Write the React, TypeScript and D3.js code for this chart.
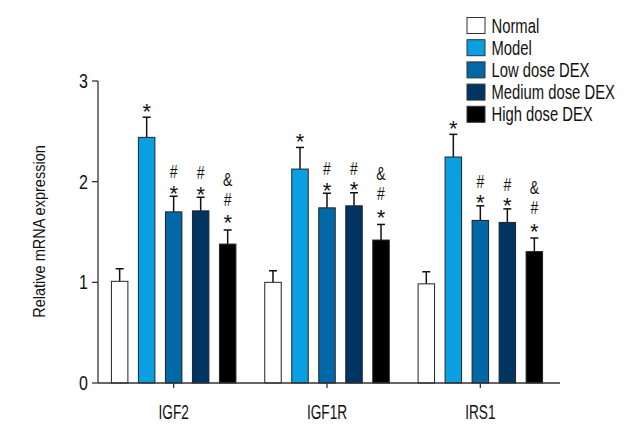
import * as d3 from 'd3';

const genes = ['IGF2', 'IGF1R', 'IRS1'];
const groups = ['Normal', 'Model', 'Low dose DEX', 'Medium dose DEX', 'High dose DEX'];
const groupColors = ['#ffffff', '#0a9fe0', '#0068a6', '#003462', '#000000'];

// mean values per gene, in group order
const meanValues = [
  [1.01, 2.44, 1.7, 1.71, 1.38],
  [1.0, 2.125, 1.74, 1.76, 1.42],
  [0.985, 2.245, 1.615, 1.595, 1.305],
];
// SD (upper error only)
const sdValues = [
  [0.125, 0.2, 0.155, 0.135, 0.14],
  [0.115, 0.215, 0.145, 0.13, 0.155],
  [0.12, 0.225, 0.145, 0.135, 0.135],
];
// significance marks per group, drawn bottom to top
const marks = [[], ['*'], ['*', '#'], ['*', '#'], ['*', '#', '&']];
const yTicks = [0, 1, 2, 3];

const font = "'Liberation Sans', Arial, sans-serif";

// distance of each mark's bottom above the error cap, depending on how many marks are stacked
const markGaps: Record<number, number[]> = {
  1: [8],
  2: [5, 18],
  3: [9, 24, 44],
};

function NarrowText({ x, y, size, sx, anchor = 'start', rotate = 0, children }: any) {
  return (
    <g transform={`translate(${x},${y}) rotate(${rotate}) scale(${sx},1)`}>
      <text x={0} y={0} textAnchor={anchor} fontFamily={font} fontSize={size} fill="#111">{children}</text>
    </g>
  );
}

export default function App() {
  const width = 640;
  const height = 440;
  const x0 = 98;
  const xEnd = 560;

  const y = d3.scaleLinear().domain([0, 3]).range([383, 81]);
  const xGene = d3.scaleBand().domain(genes).range([97, 557]).padding(0);
  const groupSpan = 124.5;
  const xGroup = d3.scaleBand().domain(groups).range([0, groupSpan]).paddingInner(0.39).paddingOuter(0);
  const color = d3.scaleOrdinal<string, string>().domain(groups).range(groupColors);

  const markText = (s: string, cx: number, bottom: number, key: number) => {
    if (s === '*') {
      // asterisk glyph sits high; push baseline down so the glyph bottom lands at `bottom`
      return (
        <NarrowText key={key} x={cx} y={bottom + 9.5} size={22} sx={1} anchor="middle">*</NarrowText>
      );
    }
    return (
      <NarrowText key={key} x={cx} y={bottom} size={17.5} sx={0.8} anchor="middle">{s}</NarrowText>
    );
  };

  return (
    <svg width={width} height={height} style={{ position: 'absolute', left: 0, top: 0, background: '#fff' }}>
      {genes.map((gene, gi) => {
        const gx = (xGene(gene) ?? 0) + xGene.bandwidth() / 2 - groupSpan / 2;
        return (
          <g key={gene} transform={`translate(${gx},0)`}>
            {groups.map((grp, k) => {
              const bx = xGroup(grp) ?? 0;
              const bw = xGroup.bandwidth();
              const m = meanValues[gi][k];
              const top = y(m + sdValues[gi][k]);
              const cx = bx + bw / 2;
              const gaps = markGaps[marks[k].length] || [];
              return (
                <g key={grp}>
                  <line x1={cx} x2={cx} y1={y(m)} y2={top} stroke="#111" strokeWidth={1.5} />
                  <line x1={cx - 4} x2={cx + 4} y1={top} y2={top} stroke="#111" strokeWidth={1.5} />
                  <rect x={bx} y={y(m)} width={bw} height={y(0) - y(m)} fill={color(grp)} stroke="#222" strokeWidth={1} />
                  {marks[k].map((s, j) => markText(s, cx, top - gaps[j], j))}
                </g>
              );
            })}
          </g>
        );
      })}

      {/* axes */}
      <line x1={x0} x2={x0} y1={y(3)} y2={y(0)} stroke="#333" strokeWidth={1.3} />
      <line x1={x0} x2={xEnd} y1={y(0)} y2={y(0)} stroke="#333" strokeWidth={1.3} />
      {yTicks.map(t => (
        <g key={t}>
          <line x1={x0 - 6} x2={x0} y1={y(t)} y2={y(t)} stroke="#333" strokeWidth={1.3} />
          <NarrowText x={x0 - 10} y={y(t) + 7} size={20} sx={0.8} anchor="end">{t}</NarrowText>
        </g>
      ))}
      {genes.map(g => {
        const cx = (xGene(g) ?? 0) + xGene.bandwidth() / 2;
        return (
          <g key={g}>
            <line x1={cx} x2={cx} y1={y(0)} y2={y(0) + 5} stroke="#333" strokeWidth={1.3} />
            <NarrowText x={cx} y={419} size={19.5} sx={0.7} anchor="middle">{g}</NarrowText>
          </g>
        );
      })}
      <NarrowText x={45} y={231.5} size={16.5} sx={0.88} anchor="middle" rotate={-90}>
        Relative mRNA expression
      </NarrowText>

      {/* legend */}
      {groups.map((grp, k) => (
        <g key={grp} transform={`translate(467,${17.5 + k * 22.2})`}>
          <rect x={0} y={0} width={18} height={16} fill={color(grp)} stroke="#333" strokeWidth={1} />
          <NarrowText x={24.5} y={15} size={19.5} sx={0.76}>{grp}</NarrowText>
        </g>
      ))}
    </svg>
  );
}
